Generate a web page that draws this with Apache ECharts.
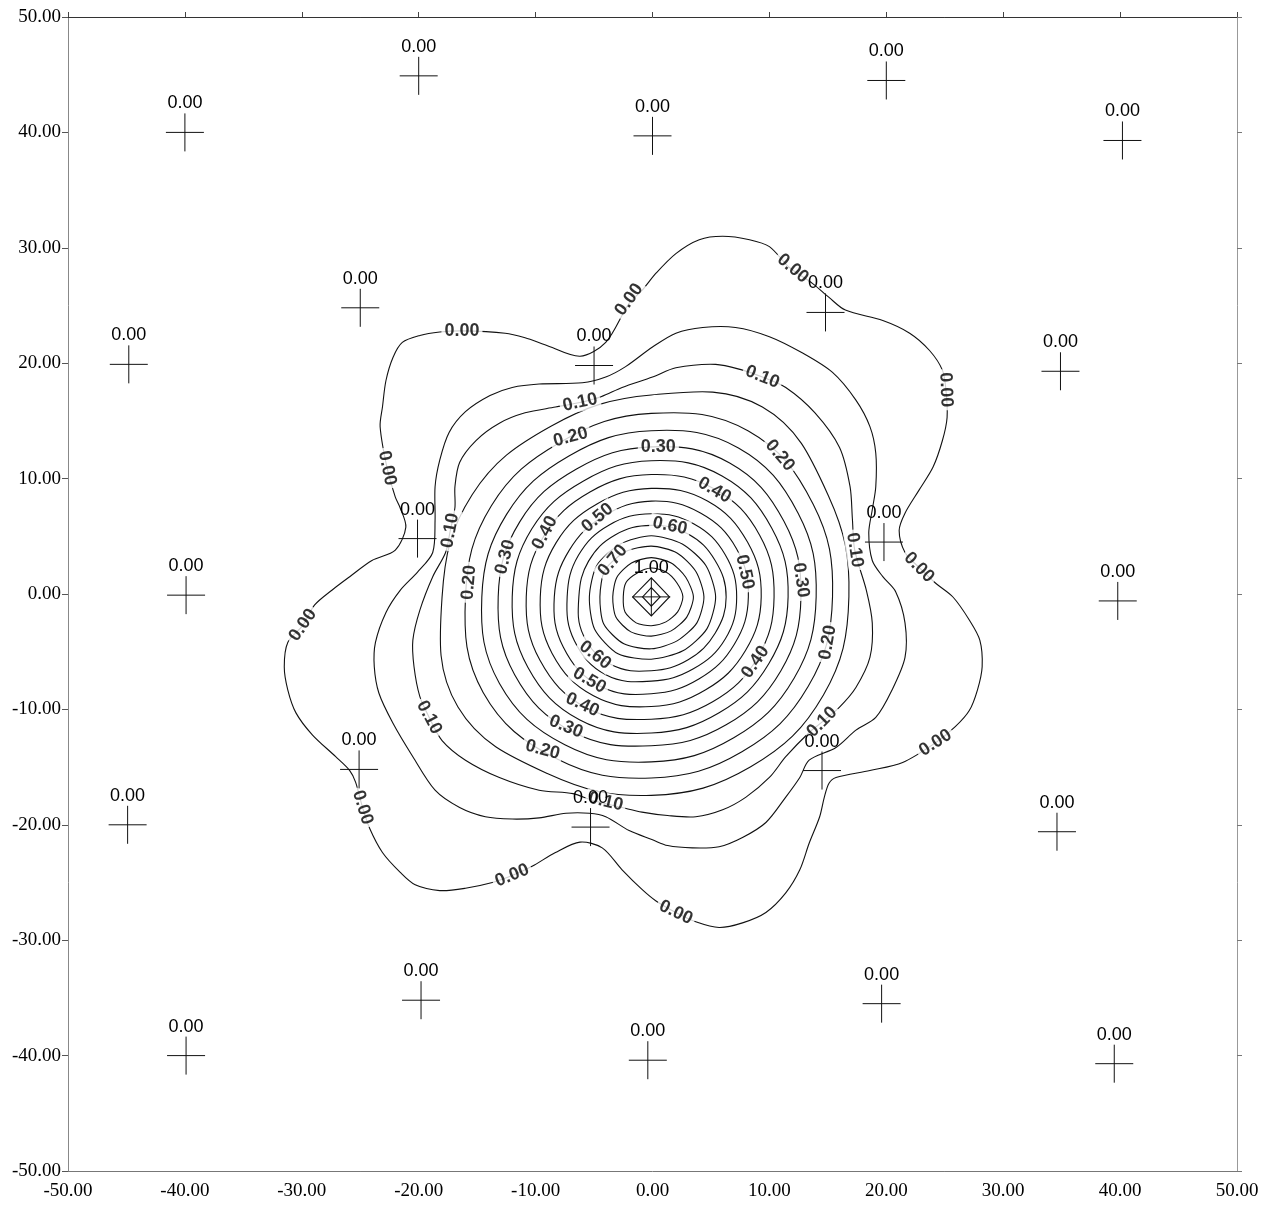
<!DOCTYPE html>
<html>
<head>
<meta charset="utf-8">
<title>contour</title>
<script src="https://cdn.jsdelivr.net/npm/echarts/dist/echarts.min.js"></script>
<style>
  html, body { margin: 0; padding: 0; background: #fff; }
  #main { width: 1270px; height: 1208px; }
</style>
</head>
<body>
<div id="main"></div>
<script>
// axis range / ticks
var axisMin = -50, axisMax = 50, axisStep = 10;

// sample points (crosses) and their values
var samplePoints = [
  [-40, 40], [-20, 44.9], [0, 39.7], [20, 44.5], [40.2, 39.3],
  [-44.8, 19.9], [-25, 24.8], [-5, 19.8], [14.8, 24.4], [34.9, 19.3],
  [-39.9, -0.1], [-20.1, 4.8], [-0.1, -0.25], [19.8, 4.5], [39.8, -0.6],
  [-44.9, -20], [-25.1, -15.2], [-5.3, -20.2], [14.5, -15.3], [34.6, -20.6],
  [-39.9, -40], [-19.8, -35.2], [-0.4, -40.4], [19.6, -35.5], [39.5, -40.7]
];
var sampleValues = [
  0, 0, 0, 0, 0,
  0, 0, 0, 0, 0,
  0, 0, 1, 0, 0,
  0, 0, 0, 0, 0,
  0, 0, 0, 0, 0
];

// contour 0.00 (outer)
var contour000 = [[6.0,31.0],[8.3,30.7],[10.0,30.1],[11.7,28.3],[13.7,26.9],[15.1,25.7],[16.5,24.6],[19.7,23.7],[22.0,22.6],[23.7,21.1],[24.8,19.4],[25.1,17.7],[25.2,15.3],[24.8,13.3],[24.0,11.0],[22.8,9.0],[21.6,7.0],[21.1,5.5],[21.6,3.6],[22.8,2.3],[24.2,0.95],[25.7,-0.26],[27.1,-2.25],[28.0,-4.0],[28.2,-6.3],[27.8,-8.3],[27.1,-10.1],[25.9,-11.5],[24.2,-12.9],[21.4,-14.6],[18.6,-15.3],[15.7,-15.9],[15.1,-16.4],[14.7,-17.6],[14.3,-19.3],[13.4,-21.6],[12.6,-23.9],[11.4,-25.9],[9.7,-27.6],[7.7,-28.5],[5.7,-28.9],[3.7,-28.4],[2.0,-27.6],[0.3,-26.6],[-0.9,-25.6],[-2.6,-23.9],[-4.3,-22.0],[-6.2,-21.5],[-8.3,-22.4],[-10.3,-23.6],[-12.0,-24.4],[-13.7,-25.0],[-16.0,-25.5],[-18.2,-25.7],[-20.3,-25.2],[-21.6,-24.1],[-23.1,-22.4],[-24.2,-20.3],[-24.8,-18.5],[-25.4,-16.3],[-25.9,-15.3],[-27.1,-14.1],[-29.1,-12.2],[-30.5,-10.3],[-31.2,-8.3],[-31.5,-6.3],[-31.2,-4.2],[-29.9,-2.7],[-28.9,-0.95],[-27.4,0.35],[-25.9,1.5],[-24.0,2.9],[-22.0,3.8],[-21.1,5.8],[-21.6,7.5],[-22.0,8.4],[-22.7,10.9],[-23.3,14.5],[-23.1,16.2],[-22.8,18.5],[-22.2,20.5],[-21.4,21.8],[-19.9,22.4],[-18.2,22.7],[-16.3,22.8],[-12.6,22.6],[-10.9,22.2],[-9.2,21.6],[-6.2,20.6],[-4.0,21.8],[-2.0,25.2],[-0.9,26.3],[0.3,27.8],[2.0,29.5],[4.0,30.7]];

// first ring inside (unlabelled)
var contour005 = [[0.0,21.4],[2.0,22.6],[4.3,23.1],[7.1,23.1],[10.0,22.3],[12.8,20.9],[15.4,19.2],[17.4,16.8],[18.6,14.5],[19.1,12.2],[19.1,9.3],[18.8,7.3],[18.5,5.3],[18.8,2.9],[19.7,1.5],[20.8,0.2],[21.6,-2.5],[21.6,-5.5],[20.5,-8.3],[19.1,-10.7],[17.4,-11.8],[15.7,-13.3],[13.4,-14.4],[12.6,-15.9],[11.4,-17.6],[9.7,-19.8],[7.7,-21.1],[5.7,-21.9],[3.4,-22.0],[1.3,-21.8],[0.0,-21.3],[-2.0,-20.5],[-4.0,-19.3],[-5.4,-19.0],[-7.4,-19.0],[-9.7,-19.4],[-12.0,-19.5],[-14.3,-19.3],[-16.5,-18.5],[-18.6,-17.0],[-20.5,-14.1],[-22.2,-11.2],[-23.4,-8.6],[-23.8,-6.3],[-23.7,-4.2],[-22.8,-1.6],[-21.6,0.3],[-20.1,1.9],[-18.8,3.6],[-18.6,6.4],[-18.6,9.3],[-18.2,11.6],[-17.4,14.0],[-16.0,15.8],[-13.9,17.2],[-12.0,17.9],[-9.7,18.2],[-6.0,18.3],[-4.0,18.8],[-2.3,19.7]];

// contour 0.10
var contour010 = [[0.0,18.8],[2.0,19.6],[5.4,19.9],[7.7,19.4],[9.4,18.8],[11.4,17.9],[13.9,15.7],[16.0,12.7],[16.9,9.3],[17.1,6.5],[17.3,3.8],[18.3,0.3],[18.8,-2.5],[18.6,-5.5],[17.4,-8.1],[16.0,-9.8],[14.5,-11.1],[13.4,-12.0],[11.4,-14.1],[10.0,-15.9],[8.0,-17.6],[6.0,-18.7],[3.7,-19.3],[1.3,-19.2],[-0.9,-18.9],[-2.6,-18.5],[-5.1,-17.9],[-6.8,-17.3],[-9.7,-17.0],[-13.1,-15.9],[-16.0,-14.4],[-18.0,-12.7],[-19.1,-10.7],[-19.9,-8.9],[-20.4,-6.3],[-20.5,-4.0],[-19.9,-1.4],[-18.8,1.5],[-17.7,3.6],[-17.3,5.5],[-16.9,7.5],[-16.9,9.3],[-16.5,11.4],[-15.1,13.3],[-13.1,14.8],[-10.9,15.7],[-8.3,16.2],[-6.2,16.6],[-4.4,17.1],[-2.6,17.9]];

// inner rings 0.15 .. 0.80: radius (data units) every 30 degrees from east, anticlockwise
var ringCenter = [-0.1, -0.25];
var ringAngles = [0, 30, 60, 90, 120, 150, 180, 210, 240, 270, 300, 330];
var ringRadii = [
  [16.9, 17.5, 19.0, 17.5, 17.1, 17.7, 17.9, 19.1, 17.7, 17.2, 17.0, 17.0],
  [15.5, 16.0, 16.6, 15.9, 15.5, 15.8, 15.9, 16.6, 16.2, 15.7, 15.5, 15.5],
  [14.1, 14.5, 14.9, 14.4, 14.1, 14.3, 14.5, 15.0, 14.8, 14.3, 14.1, 14.1],
  [12.8, 13.1, 13.4, 13.0, 12.8, 13.0, 13.1, 13.5, 13.5, 12.9, 12.8, 12.8],
  [11.7, 11.9, 12.1, 11.8, 11.6, 11.8, 11.9, 12.2, 12.3, 11.8, 11.6, 11.6],
  [10.5, 10.7, 10.8, 10.6, 10.5, 10.6, 10.7, 11.0, 11.1, 10.6, 10.5, 10.5],
  [9.4, 9.5, 9.6, 9.4, 9.3, 9.4, 9.5, 9.8, 9.9, 9.5, 9.3, 9.3],
  [8.3, 8.4, 8.4, 8.3, 8.1, 8.1, 8.3, 8.7, 8.9, 8.4, 8.2, 8.2],
  [7.3, 7.3, 7.3, 7.2, 7.2, 7.2, 7.2, 7.6, 7.8, 7.3, 7.2, 7.3],
  [6.4, 6.3, 6.3, 6.2, 6.2, 6.2, 6.2, 6.7, 6.8, 6.4, 6.3, 6.3],
  [5.5, 5.4, 5.3, 5.3, 5.3, 5.4, 5.3, 5.6, 5.7, 5.4, 5.4, 5.5],
  [4.5, 4.4, 4.4, 4.4, 4.5, 4.6, 4.4, 4.7, 4.7, 4.5, 4.4, 4.5],
  [3.6, 3.4, 3.4, 3.4, 3.4, 3.4, 3.3, 3.5, 3.5, 3.4, 3.4, 3.5],
  [2.7, 2.5, 2.5, 2.5, 2.4, 2.5, 2.4, 2.6, 2.6, 2.5, 2.5, 2.6]
];
// two innermost diamonds: radius at E, N, W, S
var diamondAngles = [0, 90, 180, 270];
var diamondRadii = [
  [1.55, 1.65, 1.6, 1.65],
  [0.75, 0.8, 0.75, 0.8]
];

// contour labels: [x, y, rotation in degrees]
var labels000 = [[-16.3,22.8,0],[-2.0,25.5,54],[12.0,28.2,-40],[25.1,17.7,-88],[22.8,2.3,-45],[24.2,-12.9,33],[2.0,-27.6,-25],[-12.0,-24.4,22],[-24.8,-18.5,-73],[-29.9,-2.7,55],[-22.7,10.9,-78]];
var labels010 = [[-6.2,16.6,12],[9.4,18.8,-22],[17.3,3.8,-81],[14.5,-11.1,45],[-4.0,-18.0,-13],[-19.1,-10.7,-62],[-17.3,5.5,80]];
var labels020 = [[-7.0,13.6,15],[10.9,12.0,-50],[15.0,-4.2,80],[-9.4,-13.5,-15],[-15.7,1.0,85]];
var labels030 = [[0.5,12.7,0],[12.7,1.2,-82],[-7.4,-11.5,-22],[-12.6,3.2,75]];
var labels040 = [[5.3,9.0,-30],[8.8,-5.9,55],[-6.0,-9.6,-25],[-9.2,5.3,62]];
var labels050 = [[-4.7,6.6,40],[7.9,1.9,-78],[-5.4,-7.5,-30]];
var labels060 = [[1.5,5.9,-12],[-4.9,-5.3,-38]];
var labels070 = [[-3.4,2.9,50]];

function polarLoop(radii, angles) {
  return radii.map(function (r, i) {
    var a = angles[i] * Math.PI / 180;
    return [ringCenter[0] + r * Math.cos(a), ringCenter[1] + r * Math.sin(a)];
  });
}

var loops = [
  { pts: contour000, smooth: 0.3 },
  { pts: contour005, smooth: 0.3 },
  { pts: contour010, smooth: 0.3 }
];
ringRadii.forEach(function (r, i) {
  loops.push({ pts: polarLoop(r, ringAngles), smooth: i > 9 ? 0.25 : 0.4 });
});
diamondRadii.forEach(function (r) {
  loops.push({ pts: polarLoop(r, diamondAngles), smooth: 0 });
});

var labelGroups = [
  ['0.00', labels000], ['0.10', labels010], ['0.20', labels020], ['0.30', labels030],
  ['0.40', labels040], ['0.50', labels050], ['0.60', labels060], ['0.70', labels070]
];
var labelData = [];
labelGroups.forEach(function (g) {
  g[1].forEach(function (l) {
    labelData.push({ value: [l[0], l[1]], name: g[0], label: { rotate: l[2] } });
  });
});

var sansFont = '"Liberation Sans", Arial, sans-serif';
var serifFont = '"Liberation Serif", "Times New Roman", serif';
var ink = '#111';

var myChart = echarts.init(document.getElementById('main'));
myChart.setOption({
  animation: false,
  backgroundColor: '#fff',
  grid: { left: 68, right: 33, top: 17, bottom: 37, containLabel: false },
  xAxis: [
    {
      type: 'value', min: axisMin, max: axisMax, interval: axisStep, position: 'bottom',
      axisLine: { show: true, onZero: false, lineStyle: { color: '#777', width: 1 } },
      axisTick: { show: false },
      splitLine: { show: false },
      axisLabel: {
        margin: 11, color: '#000', fontFamily: serifFont, fontSize: 19,
        formatter: function (v) { return v.toFixed(2); }
      }
    },
    {
      type: 'value', min: axisMin, max: axisMax, interval: axisStep, position: 'top',
      axisLine: { show: true, onZero: false, lineStyle: { color: '#333', width: 1 } },
      axisTick: { show: true, length: 5, lineStyle: { color: '#444' } },
      splitLine: { show: false },
      axisLabel: { show: false }
    }
  ],
  yAxis: [
    {
      type: 'value', min: axisMin, max: axisMax, interval: axisStep, position: 'left',
      axisLine: { show: true, onZero: false, lineStyle: { color: '#888', width: 1 } },
      axisTick: { show: true, length: 6, lineStyle: { color: '#555' } },
      splitLine: { show: false },
      axisLabel: {
        margin: 7, color: '#000', fontFamily: serifFont, fontSize: 19,
        formatter: function (v) { return v.toFixed(2); }
      }
    },
    {
      type: 'value', min: axisMin, max: axisMax, interval: axisStep, position: 'right',
      axisLine: { show: true, onZero: false, lineStyle: { color: '#999', width: 1 } },
      axisTick: { show: true, length: 5, lineStyle: { color: '#777' } },
      splitLine: { show: false },
      axisLabel: { show: false }
    }
  ],
  series: [
    {
      // contour lines
      type: 'custom',
      coordinateSystem: 'cartesian2d',
      silent: true,
      z: 2,
      data: loops.map(function (l, i) { return [0, 0, i]; }),
      renderItem: function (params, api) {
        var loop = loops[api.value(2)];
        var points = loop.pts.map(function (p) { return api.coord(p); });
        return {
          type: 'polygon',
          shape: { points: points, smooth: loop.smooth },
          style: { fill: 'none', stroke: ink, lineWidth: 1.1 }
        };
      }
    },
    {
      // contour labels
      type: 'scatter',
      silent: true,
      z: 5,
      symbolSize: 1,
      itemStyle: { color: 'rgba(0,0,0,0)' },
      data: labelData,
      label: {
        show: true, position: 'inside',
        formatter: function (p) { return p.name; },
        fontFamily: sansFont, fontSize: 18, fontWeight: 'bold', color: '#000',
        backgroundColor: '#fff', padding: [0, 3]
      }
    },
    {
      // sample points: cross + value
      type: 'custom',
      coordinateSystem: 'cartesian2d',
      silent: true,
      z: 6,
      data: samplePoints.map(function (p, i) { return [p[0], p[1], sampleValues[i]]; }),
      renderItem: function (params, api) {
        var c = api.coord([api.value(0), api.value(1)]);
        var v = api.value(2);
        var st = { stroke: '#111', lineWidth: 1 };
        return {
          type: 'group',
          children: [
            { type: 'line', shape: { x1: c[0] - 19, y1: c[1], x2: c[0] + 19, y2: c[1] }, style: st },
            { type: 'line', shape: { x1: c[0], y1: c[1] - 19, x2: c[0], y2: c[1] + 19 }, style: st },
            {
              type: 'text', x: c[0], y: c[1] - 29,
              style: { text: v.toFixed(2), align: 'center', verticalAlign: 'middle', font: '18px ' + sansFont, fill: '#000' }
            }
          ]
        };
      }
    }
  ]
});
</script>
</body>
</html>
